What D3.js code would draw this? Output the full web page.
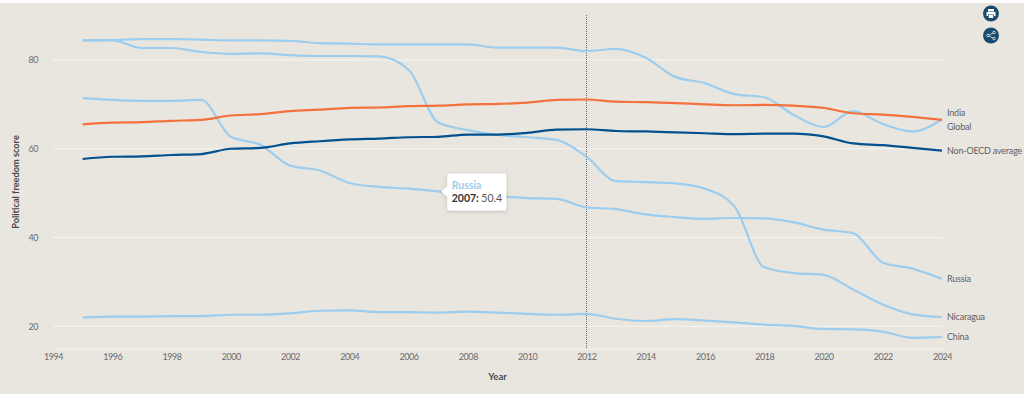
<!DOCTYPE html>
<html>
<head>
<meta charset="utf-8">
<script src="https://cdn.jsdelivr.net/npm/d3@7"></script>
<style>
  html, body { margin: 0; padding: 0; background: #fff; }
  svg { display: block; font-family: Lato, sans-serif; }
</style>
</head>
<body>
<div id="chart"></div>
<script>
// DATA
const years = d3.range(1995, 2025)
const xTicks = d3.range(1994, 2025, 2)
const yTicks = [20, 40, 60, 80]
const highlightYear = 2012

const india = [84.4, 84.5, 84.7, 84.7, 84.6, 84.4, 84.4, 84.3, 83.8, 83.7, 83.5, 83.5, 83.5, 83.5, 82.8, 82.8, 82.8, 82, 82.5, 80.5, 76.2, 74.8, 72.3, 71.6, 67.6, 64.9, 68.5, 65.6, 63.9, 66.6]
const nicaragua = [84.4, 84.4, 82.7, 82.7, 81.8, 81.4, 81.5, 81.1, 80.9, 80.9, 80.8, 77.8, 65.9, 64.2, 63.1, 62.6, 62, 58.2, 52.7, 52.5, 52.2, 51, 47, 33.3, 32, 31.6, 28.3, 24.9, 22.7, 22.1]
const russia = [71.4, 71, 70.8, 70.8, 71, 62.7, 60.9, 56.2, 55.1, 52.3, 51.4, 51, 50.4, 49.6, 49.3, 48.9, 48.7, 46.8, 46.4, 45.2, 44.6, 44.2, 44.4, 44.3, 43.4, 41.8, 41, 34.4, 33, 30.7]
const china = [22, 22.2, 22.2, 22.3, 22.3, 22.6, 22.6, 22.9, 23.5, 23.6, 23.2, 23.2, 23.1, 23.3, 23.1, 22.8, 22.6, 22.8, 21.7, 21.2, 21.6, 21.3, 20.9, 20.4, 20.1, 19.4, 19.3, 18.8, 17.4, 17.6]
const globalAvg = [65.5, 65.9, 66, 66.3, 66.5, 67.5, 67.8, 68.5, 68.8, 69.2, 69.3, 69.6, 69.7, 70, 70.1, 70.4, 71, 71.1, 70.6, 70.5, 70.3, 70, 69.8, 69.9, 69.7, 69.2, 68, 67.7, 67.2, 66.5]
const nonOecd = [57.7, 58.2, 58.3, 58.6, 58.8, 60, 60.2, 61.2, 61.7, 62.1, 62.3, 62.6, 62.7, 63.2, 63.2, 63.6, 64.3, 64.4, 64, 63.9, 63.7, 63.5, 63.3, 63.4, 63.4, 62.8, 61.2, 60.8, 60.2, 59.6]

const lightBlue = "#9dcdee"
const series = [
  { name: "India", values: india, color: lightBlue, labelDy: -6.5 },
  { name: "Nicaragua", values: nicaragua, color: lightBlue, labelDy: 0 },
  { name: "Russia", values: russia, color: lightBlue, labelDy: 0 },
  { name: "China", values: china, color: lightBlue, labelDy: 0 },
  { name: "Global", values: globalAvg, color: "#f4713b", labelDy: 6.5 },
  { name: "Non-OECD average", values: nonOecd, color: "#02508f", labelDy: 0 },
]

// DIMENSIONS
const width = 1024
const height = 394
const margin = { top: 3, right: 82, bottom: 45.5, left: 53 }

const wrapper = d3.select("#chart")
  .append("svg")
  .attr("width", width)
  .attr("height", height)

wrapper.append("rect")
  .attr("y", margin.top)
  .attr("width", width)
  .attr("height", height - margin.top)
  .attr("fill", "#e9e6df")

// SCALES
const xScale = d3.scaleLinear()
  .domain([1994, 2024])
  .range([margin.left, width - margin.right])

const yScale = d3.scaleLinear()
  .domain([15, 80])
  .range([348.5, 60])

// AXES
const xAxis = wrapper.append("g")
  .attr("transform", `translate(0, ${yScale(15)})`)
  .call(d3.axisBottom(xScale).tickValues(xTicks).tickFormat(d3.format("d")).tickSize(0).tickPadding(5))
xAxis.select(".domain").attr("stroke", "#f7f6f3").attr("stroke-width", 1)

const yAxis = wrapper.append("g")
  .attr("transform", `translate(${margin.left}, 0)`)
  .call(d3.axisLeft(yScale).tickValues(yTicks).tickSize(0).tickPadding(15))
yAxis.select(".domain").remove()

wrapper.selectAll(".tick text")
  .attr("fill", "#6b6b6b")
  .style("font-family", "Lato, sans-serif")
  .style("font-size", "9px")
  .style("letter-spacing", "-0.45px")

// GRID
wrapper.append("g")
  .selectAll("line")
  .data(yTicks)
  .join("line")
    .attr("x1", xScale(1994))
    .attr("x2", xScale(2024))
    .attr("y1", d => yScale(d))
    .attr("y2", d => yScale(d))
    .attr("stroke", "#f7f6f3")

wrapper.append("line")
  .attr("x1", Math.round(xScale(highlightYear)) + 0.5)
  .attr("x2", Math.round(xScale(highlightYear)) + 0.5)
  .attr("y1", 15)
  .attr("y2", yScale(15))
  .attr("stroke", "#666")
  .attr("stroke-dasharray", "1 1")

// LINES
const lineGenerator = d3.line()
  .x((d, i) => xScale(years[i]))
  .y(d => yScale(d))
  .curve(d3.curveMonotoneX)

wrapper.append("g")
  .selectAll("path")
  .data(series)
  .join("path")
    .attr("d", d => lineGenerator(d.values))
    .attr("fill", "none")
    .attr("stroke", d => d.color)
    .attr("stroke-width", 2.2)

wrapper.append("g")
  .selectAll("text")
  .data(series)
  .join("text")
    .attr("x", xScale(2024) + 5)
    .attr("y", d => yScale(d.values[d.values.length - 1]) + d.labelDy)
    .attr("dy", "0.35em")
    .attr("fill", "#5f5f5f")
    .style("font-size", "9px")
    .style("letter-spacing", "-0.2px")
    .text(d => d.name)

// AXIS TITLES
wrapper.append("text")
  .attr("x", 497.5)
  .attr("y", 380)
  .attr("text-anchor", "middle")
  .attr("fill", "#4a4a4a")
  .style("font-size", "9.5px")
  .style("font-weight", 700)
  .text("Year")

wrapper.append("text")
  .attr("transform", "translate(18.5, 182) rotate(-90)")
  .attr("text-anchor", "middle")
  .attr("fill", "#4a4a4a")
  .style("font-size", "9.2px")
  .style("font-weight", 700)
  .text("Political freedom score")

// TOOLTIP
const tipYear = 2007
const tipValue = russia[years.indexOf(tipYear)]
const tip = wrapper.append("g")
  .attr("transform", `translate(${xScale(tipYear)}, ${yScale(tipValue)})`)

const shadow = wrapper.append("defs").append("filter")
  .attr("id", "tip-shadow")
  .attr("x", "-20%").attr("y", "-20%")
  .attr("width", "140%").attr("height", "150%")
shadow.append("feDropShadow")
  .attr("dx", 0).attr("dy", 1)
  .attr("stdDeviation", 2)
  .attr("flood-color", "#000")
  .attr("flood-opacity", 0.18)

tip.append("path")
  .attr("d", "M10 -18 H66 a2 2 0 0 1 2 2 V17 a2 2 0 0 1 -2 2 H11 a2 2 0 0 1 -2 -2 V5 L3 0 L9 -5 V-16 a2 2 0 0 1 2 -2 Z")
  .attr("fill", "#fff")
  .attr("filter", "url(#tip-shadow)")

tip.append("text")
  .attr("x", 13.5)
  .attr("y", -2)
  .attr("fill", lightBlue)
  .style("font-size", "10.5px")
  .style("font-weight", 700)
  .text("Russia")

const tipLine = tip.append("text")
  .attr("x", 13.5)
  .attr("y", 11)
  .attr("fill", "#555")
  .style("font-size", "10.5px")
tipLine.append("tspan")
  .attr("fill", "#333")
  .style("font-weight", 700)
  .text(`${tipYear}: `)
tipLine.append("tspan").text(tipValue)

// ICONS
const iconColor = "#1c4a6e"
const printIcon = wrapper.append("g").attr("transform", "translate(991, 13.5)")
printIcon.append("circle").attr("r", 8).attr("fill", iconColor)
printIcon.append("path")
  .attr("d", "M-3 -4.5 H3 V-2 H-3 Z M-4.5 -1.5 H4.5 V2.5 H3 V1 H-3 V2.5 H-4.5 Z M-2.2 1.6 H2.2 V4.5 H-2.2 Z")
  .attr("fill", "#fff")

const shareIcon = wrapper.append("g").attr("transform", "translate(991, 35.5)")
shareIcon.append("circle").attr("r", 8).attr("fill", iconColor)
shareIcon.append("path")
  .attr("d", "M3 -3 L-3 0 L3 3")
  .attr("fill", "none")
  .attr("stroke", "#fff")
  .attr("stroke-width", 0.7)
shareIcon.selectAll(".node")
  .data([[3, -3], [-3, 0], [3, 3]])
  .join("circle")
    .attr("cx", d => d[0])
    .attr("cy", d => d[1])
    .attr("r", 1.3)
    .attr("fill", iconColor)
    .attr("stroke", "#fff")
    .attr("stroke-width", 0.7)
</script>
</body>
</html>
